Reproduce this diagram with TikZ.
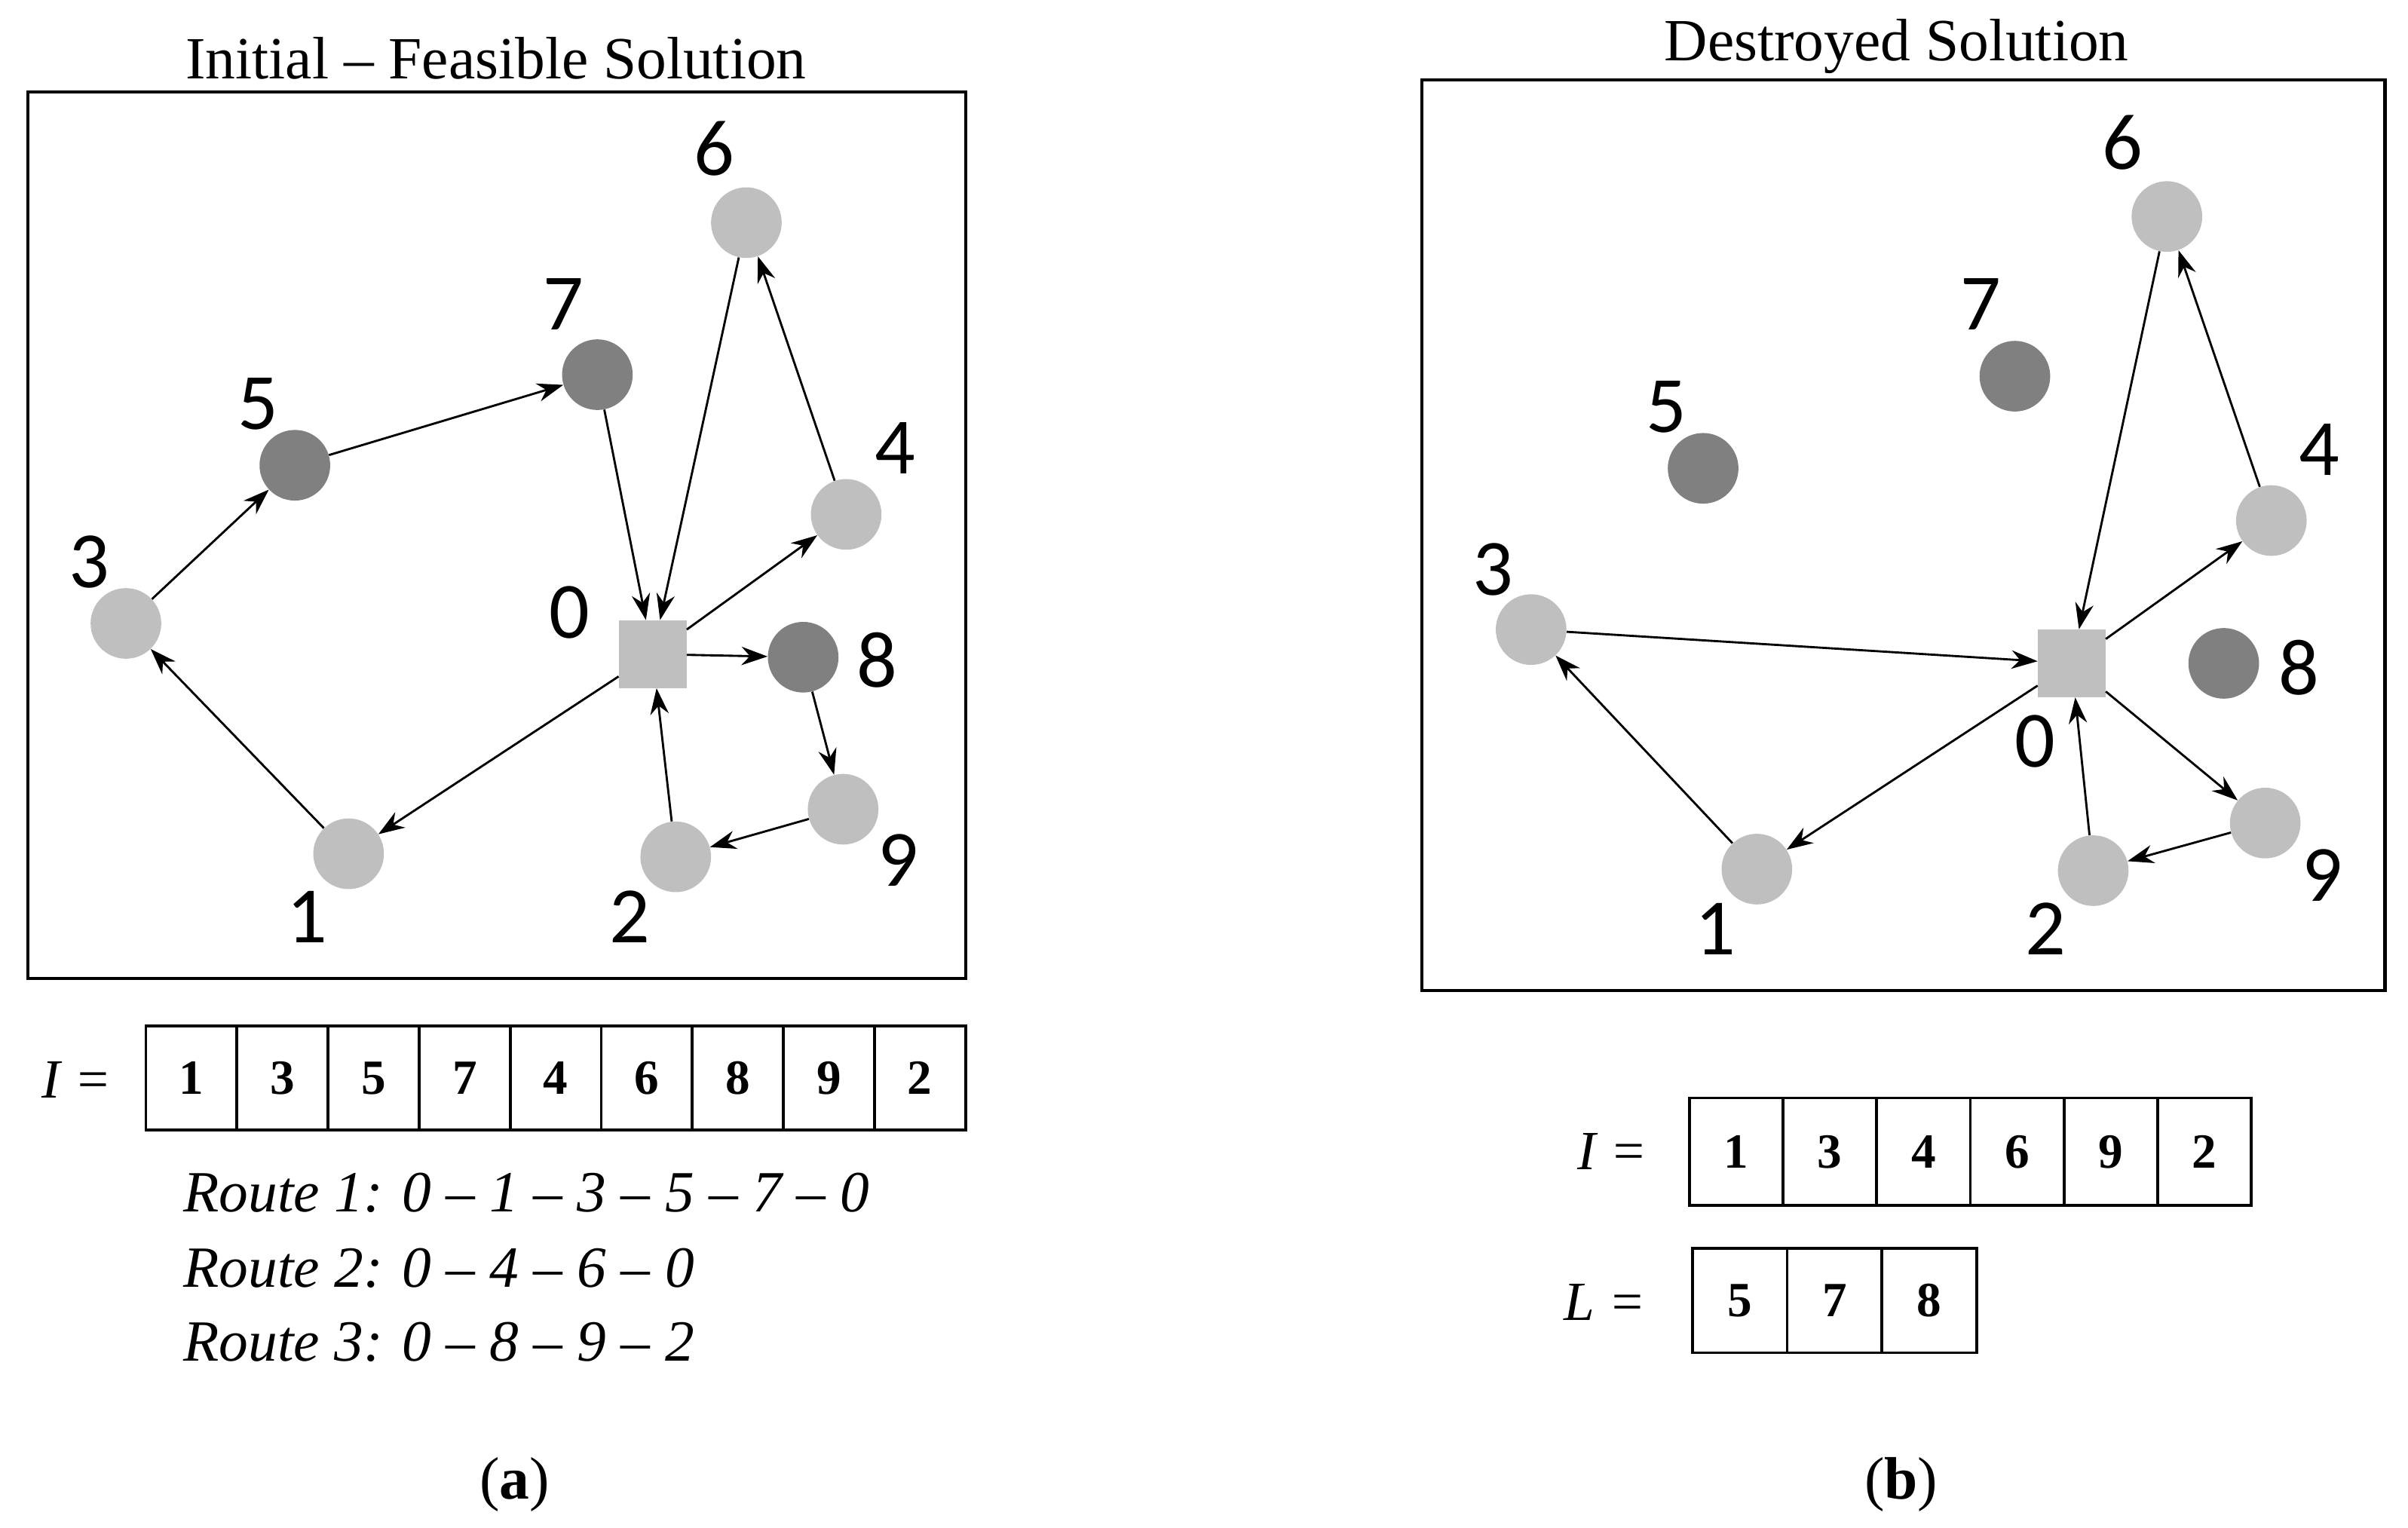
\documentclass[tikz,border=0pt]{standalone}
\usepackage{fontspec}
\setmainfont{Liberation Serif}
\newfontfamily\lblfont{Carlito}
\usetikzlibrary{arrows.meta}
\begin{document}
\begin{tikzpicture}[x=1pt,y=-1pt,
  lt/.style={circle,fill=black!25,minimum size=46pt,inner sep=0pt},
  dk/.style={circle,fill=black!50,minimum size=46pt,inner sep=0pt},
  depot/.style={rectangle,fill=black!25,minimum size=44pt,inner sep=0pt},
  lbl/.style={font=\lblfont\fontsize{52}{52}\selectfont},
  ttl/.style={font=\fontsize{39}{39}\selectfont},
  rt/.style={font=\itshape\fontsize{38}{38}\selectfont,anchor=west},
  cell/.style={draw,line width=1.8pt,minimum width=59.3pt,minimum height=68pt,inner sep=0pt,font=\bfseries\fontsize{32}{32}\selectfont},
  arr/.style={-{Stealth[length=17pt,width=12pt]},line width=1.4pt},
  frame/.style={draw,line width=2pt}]
\useasboundingbox (0,0) rectangle (1568,995);
% panel a
\draw[frame] (18,60) rectangle (629,637);
\node[ttl] (ta) at (323,38) {Initial -- Feasible Solution};
\node[depot] (a0) at (425,426) {};
\node[lt] (a1) at (227,556) {};
\node[lt] (a2) at (440,558) {};
\node[lt] (a3) at (82,406) {};
\node[lt] (a4) at (551,335) {};
\node[dk] (a5) at (192,303) {};
\node[lt] (a6) at (486,145) {};
\node[dk] (a7) at (389,244) {};
\node[dk] (a8) at (523,428) {};
\node[lt] (a9) at (549,527) {};
\node[lbl] (la0) at (371,399) {0};
\node[lbl] (la1) at (200,597) {1};
\node[lbl] (la2) at (410,597) {2};
\node[lbl] (la3) at (58,366) {3};
\node[lbl] (la4) at (583,292) {4};
\node[lbl] (la5) at (168,263) {5};
\node[lbl] (la6) at (465,97) {6};
\node[lbl] (la7) at (367,198) {7};
\node[lbl] (la8) at (571,430) {8};
\node[lbl] (la9) at (585,560) {9};
\foreach \s/\t in {a1/a3,a3/a5,a5/a7,a7/a0,a0/a4,a4/a6,a6/a0,a0/a8,a8/a9,a9/a2,a2/a0,a0/a1}
  \draw[arr] (\s) -- (\t);
\node[font=\itshape\fontsize{36}{36}\selectfont] (ia) at (50,703) {I =};
\foreach \v [count=\i] in {1,3,5,7,4,6,8,9,2}
  \node[cell] (ca\i) at ({95+59.3*(\i-0.5)},702) {\v};
\node[rt] (r1) at (116,777) {Route 1: 0 -- 1 -- 3 -- 5 -- 7 -- 0};
\node[rt] (r2) at (116,826) {Route 2: 0 -- 4 -- 6 -- 0};
\node[rt] (r3) at (116,874) {Route 3: 0 -- 8 -- 9 -- 2};
\node[ttl] (capa) at (335,967) {(\textbf{a})};
% panel b
\draw[frame] (926,52) rectangle (1553,645);
\node[ttl] (tb) at (1235,30) {Destroyed Solution};
\node[depot] (b0) at (1349,432) {};
\node[lt] (b1) at (1144,566) {};
\node[lt] (b2) at (1363,567) {};
\node[lt] (b3) at (997,410) {};
\node[lt] (b4) at (1479,339) {};
\node[dk] (b5) at (1109,305) {};
\node[lt] (b6) at (1411,141) {};
\node[dk] (b7) at (1312,245) {};
\node[dk] (b8) at (1448,432) {};
\node[lt] (b9) at (1475,536) {};
\node[lbl] (lb0) at (1325,483) {0};
\node[lbl] (lb1) at (1117,605) {1};
\node[lbl] (lb2) at (1332,605) {2};
\node[lbl] (lb3) at (972,371) {3};
\node[lbl] (lb4) at (1510,293) {4};
\node[lbl] (lb5) at (1085,265) {5};
\node[lbl] (lb6) at (1382,93) {6};
\node[lbl] (lb7) at (1290,198) {7};
\node[lbl] (lb8) at (1497,435) {8};
\node[lbl] (lb9) at (1512,570) {9};
\foreach \s/\t in {b3/b0,b0/b4,b4/b6,b6/b0,b0/b1,b1/b3,b0/b9,b9/b2,b2/b0}
  \draw[arr] (\s) -- (\t);
\node[font=\itshape\fontsize{36}{36}\selectfont] (ib) at (1050,750) {I =};
\foreach \v [count=\i] in {1,3,4,6,9,2}
  \node[cell,minimum width=61pt,minimum height=70pt] (cb\i) at ({1100+61*(\i-0.5)},750) {\v};
\node[font=\itshape\fontsize{36}{36}\selectfont] (lbx) at (1045,848) {L =};
\foreach \v [count=\i] in {5,7,8}
  \node[cell,minimum width=61.7pt,minimum height=68pt] (cl\i) at ({1102+61.7*(\i-0.5)},847) {\v};
\node[ttl] (capb) at (1238,967) {(\textbf{b})};
\end{tikzpicture}
\end{document}
